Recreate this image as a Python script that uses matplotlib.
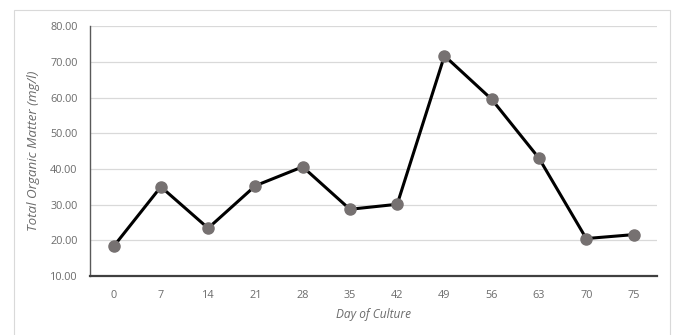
import matplotlib
matplotlib.use("Agg")
import matplotlib.pyplot as plt
from matplotlib.patches import Rectangle

days = ["0", "7", "14", "21", "28", "35", "42", "49", "56", "63", "70", "75"]
tom = [18.3, 35.0, 23.4, 35.3, 40.6, 28.7, 30.1, 71.7, 59.5, 43.0, 20.5, 21.6]

plt.rcParams['font.family'] = ['Open Sans', 'DejaVu Sans']

fig = plt.figure(figsize=(6.74, 3.35), dpi=100)
fig.patches.append(Rectangle((0.021, -0.02), 0.973, 0.99, transform=fig.transFigure,
                             fill=False, edgecolor='#d9d9d9', linewidth=0.8))
ax = fig.add_axes([0.1335, 0.176, 0.8415, 0.746])

x = range(len(days))
ax.plot(x, tom, color='black', linewidth=2.2, marker='o', markersize=8,
        markerfacecolor='#767171', markeredgecolor='#767171', zorder=3)

ax.set_xlim(-0.5, len(days) - 0.5)
ax.set_ylim(10, 80)
ax.set_yticks([10, 20, 30, 40, 50, 60, 70, 80])
ax.set_yticklabels([f"{v:.2f}" for v in ax.get_yticks()])
ax.set_xticks(list(x))
ax.set_xticklabels(days)
ax.yaxis.grid(True, color='#d9d9d9', linewidth=0.9)
ax.set_axisbelow(True)

for s in ['top', 'right']:
    ax.spines[s].set_visible(False)
ax.spines['left'].set_color('#595959')
ax.spines['left'].set_linewidth(1.0)
ax.spines['bottom'].set_color('#404040')
ax.spines['bottom'].set_linewidth(1.6)
ax.tick_params(length=0, labelsize=7.8, colors='#6b6b6b')
ax.tick_params(axis='y', pad=9)
ax.tick_params(axis='x', pad=10)

ax.set_xlabel("Day of Culture", fontsize=8.6, style='italic', color='#6b6b6b', labelpad=5)
ax.set_ylabel("Total Organic Matter (mg/l)", fontsize=9.6, style='italic', color='#6b6b6b', labelpad=7)

fig.savefig("out.png", dpi=100)
